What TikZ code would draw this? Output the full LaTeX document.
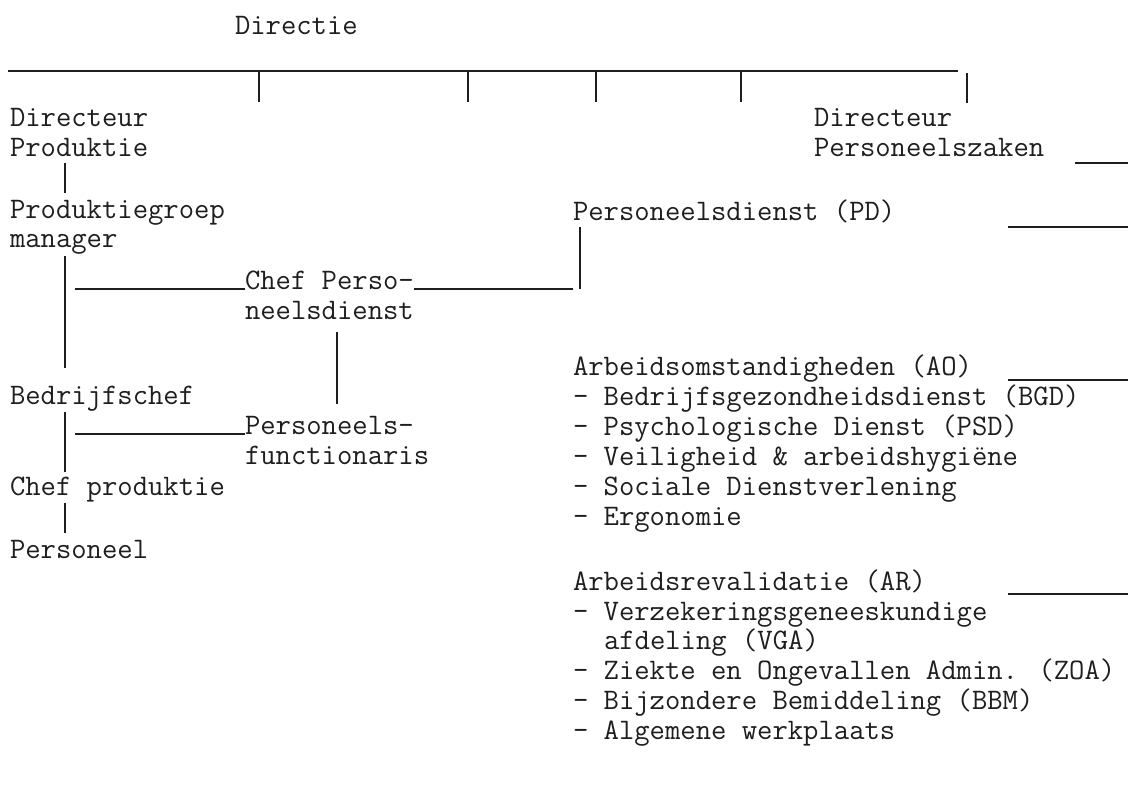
\documentclass[tikz,border=0pt]{standalone}
\usepackage{fontspec}
\definecolor{ink}{HTML}{1E1E1E}
\newcommand\twfont{\ttfamily\fontsize{29.8}{30}\selectfont}
\tikzset{
  lbl/.style={anchor=base west, inner sep=0pt, outer sep=0pt, text=ink, font=\twfont},
  ln/.style={draw=ink, line width=1.3pt},
}
\begin{document}
\begin{tikzpicture}[x=1pt,y=-1pt]
\useasboundingbox (0,0) rectangle (1128,800);
\fill[white] (0,0) rectangle (1128,800);

% ---- text ----
\node[lbl] (dir)  at (235,35)  {Directie};
\node[lbl] (dp1)  at (10,127)  {Directeur};
\node[lbl] (dp2)  at (10,157)  {Produktie};
\node[lbl] (pg1)  at (10,218)  {Produktiegroep};
\node[lbl] (pg2)  at (10,247)  {manager};
\node[lbl] (cp1)  at (245,289) {Chef Perso-};
\node[lbl] (cp2)  at (245,319) {neelsdienst};
\node[lbl] (bc)   at (10,404)  {Bedrijfschef};
\node[lbl] (pf1)  at (245,434) {Personeels-};
\node[lbl] (pf2)  at (245,464) {functionaris};
\node[lbl] (chp)  at (10,495)  {Chef produktie};
\node[lbl] (pers) at (10,558)  {Personeel};

\node[lbl] (dz1)  at (814,127) {Directeur};
\node[lbl] (dz2)  at (814,157) {Personeelszaken};
\node[lbl] (pd)   at (573,220) {Personeelsdienst (PD)};

\node[lbl] (ao)   at (573,375) {Arbeidsomstandigheden (AO)};
\node[lbl] (ao1)  at (573,405) {- Bedrijfsgezondheidsdienst (BGD)};
\node[lbl] (ao2)  at (573,435) {- Psychologische Dienst (PSD)};
\node[lbl] (ao3)  at (573,465) {- Veiligheid \& arbeidshygiëne};
\node[lbl] (ao4)  at (573,495) {- Sociale Dienstverlening};
\node[lbl] (ao5)  at (573,525) {- Ergonomie};

\node[lbl] (ar)   at (573,590) {Arbeidsrevalidatie (AR)};
\node[lbl] (ar1)  at (573,620) {- Verzekeringsgeneeskundige};
\node[lbl] (ar1b) at (604,649) {afdeling (VGA)};
\node[lbl] (ar2)  at (573,679) {- Ziekte en Ongevallen Admin. (ZOA)};
\node[lbl] (ar3)  at (573,709) {- Bijzondere Bemiddeling (BBM)};
\node[lbl] (ar4)  at (573,739) {- Algemene werkplaats};

% ---- top bar ----
\coordinate (barL) at (8,71);
\coordinate (barR) at (958,71);
\draw[ln] (barL) -- (barR);
\foreach \x [count=\i] in {259,468,596,741}{
  \coordinate (tk\i a) at (\x,71);
  \coordinate (tk\i b) at (\x,102);
  \draw[ln] (tk\i a) -- (tk\i b);
}
\coordinate (tk5a) at (967,73);
\coordinate (tk5b) at (967,103);
\draw[ln] (tk5a) -- (tk5b);

% ---- left column ----
\coordinate (v1a) at (65,163);
\coordinate (v1b) at (65,193);
\draw[ln] (v1a) -- (v1b);

\coordinate (v2a) at (65,256);
\coordinate (v2b) at (65,368);
\draw[ln] (v2a) -- (v2b);
\coordinate (h1a) at (75,289);
\draw[ln] (h1a) -- (cp1.base west);

\coordinate (h2b) at (573,289);
\draw[ln] (cp1.base east) -- (h2b);
\coordinate (v3a) at (580,227);
\coordinate (v3b) at (580,289);
\draw[ln] (v3a) -- (v3b);

\coordinate (v4a) at (337,332);
\coordinate (v4b) at (337,404);
\draw[ln] (v4a) -- (v4b);

\coordinate (v5a) at (65,412);
\coordinate (v5b) at (65,472);
\draw[ln] (v5a) -- (v5b);
\coordinate (h3a) at (75,434);
\draw[ln] (h3a) -- (pf1.base west);

\coordinate (v6a) at (65,503);
\coordinate (v6b) at (65,533);
\draw[ln] (v6a) -- (v6b);

% ---- right-edge lines ----
\coordinate (e1a) at (1075,163); \coordinate (e1b) at (1128,163);
\draw[ln] (e1a) -- (e1b);
\coordinate (e2a) at (1008,227); \coordinate (e2b) at (1128,227);
\draw[ln] (e2a) -- (e2b);
\coordinate (e3a) at (1008,380); \coordinate (e3b) at (1128,380);
\draw[ln] (e3a) -- (e3b);
\coordinate (e4a) at (1008,594); \coordinate (e4b) at (1128,594);
\draw[ln] (e4a) -- (e4b);
\end{tikzpicture}
\end{document}
